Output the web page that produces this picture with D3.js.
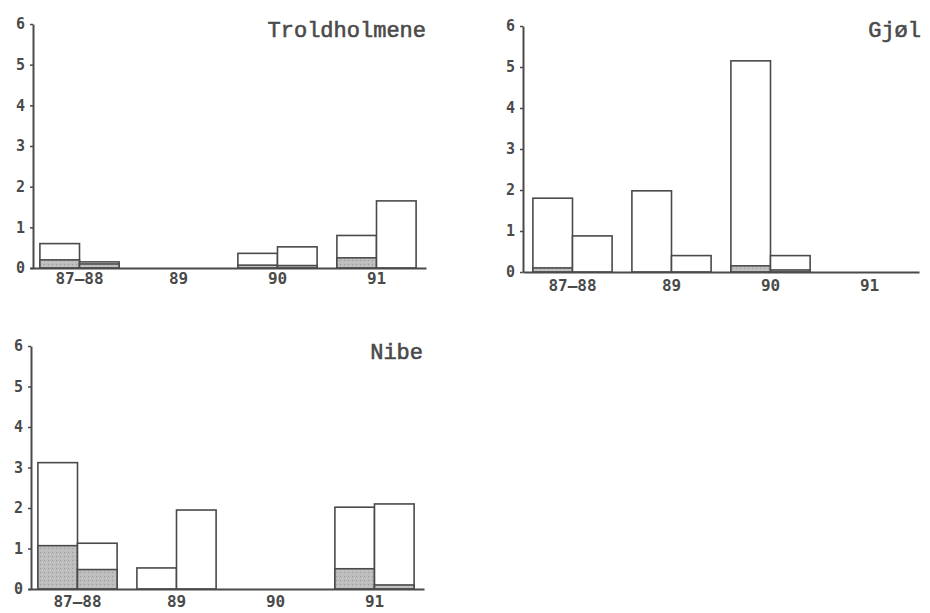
<!DOCTYPE html>
<html>
<head>
<meta charset="utf-8">
<script src="https://cdn.jsdelivr.net/npm/d3@7"></script>
<style>
  html, body { margin: 0; padding: 0; background: #ffffff; }
  svg { display: block; }
</style>
</head>
<body>
<svg id="chart" width="930" height="613"></svg>
<script>
// Sampling years and y-axis ticks
const categories = ["87–88", "89", "90", "91"];
const yTicks = [0, 1, 2, 3, 4, 5, 6];
const sites = ["Troldholmene", "Gjøl", "Nibe"];

// Left and right bar of each year: total height and shaded lower part
const troldTotal1  = [0.60, 0, 0.36, 0.80];
const troldShaded1 = [0.20, 0, 0.07, 0.25];
const troldTotal2  = [0.15, 0, 0.52, 1.65];
const troldShaded2 = [0.10, 0, 0.06, 0];

const gjolTotal1  = [1.80, 1.98, 5.15, 0];
const gjolShaded1 = [0.10, 0, 0.15, 0];
const gjolTotal2  = [0.88, 0.40, 0.40, 0];
const gjolShaded2 = [0, 0, 0.05, 0];

const nibeTotal1  = [3.12, 0.52, 0, 2.02];
const nibeShaded1 = [1.07, 0, 0, 0.50];
const nibeTotal2  = [1.13, 1.95, 0, 2.10];
const nibeShaded2 = [0.48, 0, 0, 0.10];

const panelData = [
  { site: sites[0], total: [troldTotal1, troldTotal2], shaded: [troldShaded1, troldShaded2] },
  { site: sites[1], total: [gjolTotal1, gjolTotal2], shaded: [gjolShaded1, gjolShaded2] },
  { site: sites[2], total: [nibeTotal1, nibeTotal2], shaded: [nibeShaded1, nibeShaded2] }
];

// Panel placement on the page
const layout = [
  { left: 30,  axisX: 33,  top: 24,  bottom: 268, labelPad: 5, titleX: 426, titleY: 37 },
  { left: 523, axisX: 523, top: 26,  bottom: 272, labelPad: 8, titleX: 921, titleY: 37 },
  { left: 28,  axisX: 31,  top: 346, bottom: 589, labelPad: 7, titleX: 423, titleY: 359 }
];
const panelWidth = 396;
const ink = "#4a4a4a";

const svg = d3.select("#chart");

// Stippled grey fill for the shaded part of the bars
const defs = svg.append("defs");
const pat = defs.append("pattern")
  .attr("id", "stipple").attr("patternUnits", "userSpaceOnUse")
  .attr("width", 4).attr("height", 4);
pat.append("rect").attr("width", 4).attr("height", 4).attr("fill", "#bdbdbd");
pat.append("rect").attr("x", 0).attr("y", 0).attr("width", 1).attr("height", 1).attr("fill", "#9a9a9a");
pat.append("rect").attr("x", 2).attr("y", 2).attr("width", 1).attr("height", 1).attr("fill", "#d0d0d0");

panelData.forEach((p, i) => {
  const L = layout[i];
  const g = svg.append("g");

  const x = d3.scaleBand().domain(categories)
    .range([L.left, L.left + panelWidth]).paddingInner(0.2).paddingOuter(0.1);
  const xs = d3.scaleBand().domain([0, 1]).range([0, x.bandwidth()]);
  const y = d3.scaleLinear().domain([0, 6]).range([L.bottom, L.top]);

  // Bars: white upper part over a stippled lower part
  [0, 1].forEach(s => {
    categories.forEach((c, k) => {
      const tot = p.total[s][k];
      const sh = p.shaded[s][k];
      if (tot <= 0) return;
      const bx = x(c) + xs(s);
      const bw = xs.bandwidth();
      g.append("rect")
        .attr("x", bx).attr("y", y(tot))
        .attr("width", bw).attr("height", y(0) - y(tot))
        .attr("fill", "#ffffff").attr("stroke", ink).attr("stroke-width", 1.6);
      if (sh > 0) {
        g.append("rect")
          .attr("x", bx).attr("y", y(sh))
          .attr("width", bw).attr("height", y(0) - y(sh))
          .attr("fill", "url(#stipple)").attr("stroke", ink).attr("stroke-width", 1.6);
      }
    });
  });

  // X axis
  const xAxis = g.append("g")
    .attr("transform", `translate(0,${L.bottom})`)
    .call(d3.axisBottom(x).tickSize(0).tickPadding(L.labelPad));
  xAxis.select(".domain").attr("stroke", ink).attr("stroke-width", 2);
  xAxis.selectAll("text")
    .attr("font-family", "'DejaVu Sans Mono', monospace")
    .attr("font-weight", "bold").attr("font-size", 16).attr("fill", ink);

  // Y axis
  const yAxis = g.append("g")
    .attr("transform", `translate(${L.axisX},0)`)
    .call(d3.axisLeft(y).tickValues(yTicks).tickFormat(d3.format("d"))
      .tickSize(3).tickSizeOuter(0).tickPadding(5));
  yAxis.select(".domain").attr("stroke", ink).attr("stroke-width", 2);
  yAxis.selectAll(".tick line").attr("stroke", ink).attr("stroke-width", 1.5);
  yAxis.selectAll("text")
    .attr("font-family", "'DejaVu Sans Mono', monospace")
    .attr("font-weight", "bold").attr("font-size", 15).attr("fill", ink);

  // Site name
  g.append("text")
    .attr("x", L.titleX).attr("y", L.titleY)
    .attr("text-anchor", "end")
    .attr("font-family", "'Liberation Mono', 'Courier New', monospace")
    .attr("font-size", 22)
    .attr("fill", "#4a4a4a").attr("stroke", "#4a4a4a").attr("stroke-width", 0.6)
    .text(p.site);
});
</script>
</body>
</html>
